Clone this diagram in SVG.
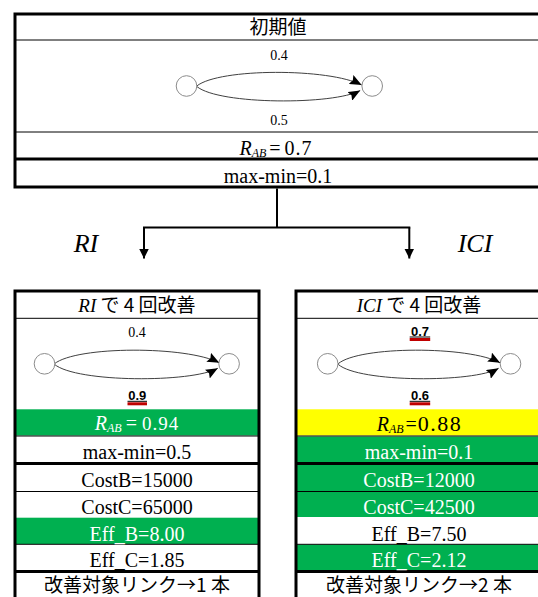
<svg xmlns="http://www.w3.org/2000/svg" width="538" height="597" viewBox="0 0 538 597">
<style>
.s{font-family:"Liberation Serif",serif;font-size:20px;text-anchor:middle;fill:#000}
.w{fill:#fff}
.jp{font-family:"Liberation Serif","Noto Sans CJK JP",sans-serif;font-size:19px;text-anchor:middle;fill:#000}
.jpf{font-family:"Noto Sans CJK JP",sans-serif}
.it{font-family:"Liberation Serif",serif;font-style:italic}
.lbl{font-family:"Liberation Serif",serif;font-size:14px;text-anchor:middle;fill:#000}
.blbl{font-family:"Liberation Sans",sans-serif;font-weight:bold;font-size:13px;text-anchor:middle;fill:#000}
.thick{stroke:#000;stroke-width:3;fill:none}
.thin{stroke:#000;stroke-width:1;fill:none}
.nd{fill:#fff;stroke:#8c8c8c;stroke-width:1}
.ed{fill:none;stroke:#404040;stroke-width:1}
.g{fill:#00B050}
.y{fill:#FFFF00}
.red{fill:#C00000}
.con{stroke:#000;stroke-width:2;fill:none}
.clab{font-family:"Liberation Serif",serif;font-style:italic;font-size:26px;text-anchor:middle;fill:#000}
</style>
<defs>
<marker id="arr" markerUnits="userSpaceOnUse" markerWidth="10" markerHeight="10" refX="10" refY="5" orient="auto"><path d="M0,0 L10,5 L0,10 z" fill="#000"/></marker>
<marker id="ah" markerUnits="userSpaceOnUse" markerWidth="12" markerHeight="10" refX="12" refY="5" orient="auto"><path d="M0,0 L12,5 L0,10 L2,5 z" fill="#000"/></marker>
</defs>
<rect width="538" height="597" fill="#fff"/>

<g id="initial">
<line class="thin" x1="15" y1="40" x2="541" y2="40"/>
<line class="thin" x1="15" y1="132" x2="541" y2="132"/>
<line class="thick" x1="15" y1="159" x2="541" y2="159"/>
<rect class="thick" x="15" y="14" width="526" height="173"/>
<text class="jp jpf" x="278" y="34" font-size="18">初期値</text>
<g id="initial-graph" transform="translate(279.2,86)">
<path class="ed" d="M-82.4,0 C-60,-18 50,-18 82.5,-1" marker-end="url(#ah)"/>
<path class="ed" d="M-82.4,0.5 C-60,19 55,19 81,4.5" marker-end="url(#ah)"/>
<circle id="init-A" class="nd" cx="-92.7" cy="0" r="10.3"/>
<circle id="init-B" class="nd" cx="93" cy="0" r="10.3"/>
</g>
<text class="lbl" x="279" y="59.5">0.4</text>
<text class="lbl" x="279" y="125">0.5</text>
<text class="s" x="276" y="155" font-size="18"><tspan class="it">R</tspan><tspan class="it" font-size="12" dy="2">AB</tspan><tspan dy="-2" dx="3">=</tspan><tspan dx="4" letter-spacing="1">0.7</tspan></text>
<text class="s" x="278" y="183">max-min=0.1</text>
</g>

<g id="connectors">
<path class="con" d="M277,188.5 V227.5"/>
<path class="con" d="M144,227.5 H409.3" stroke-linecap="square"/>
<path class="con" d="M144,227.5 V258.5" marker-end="url(#arr)"/>
<path class="con" d="M409.3,227.5 V258.5" marker-end="url(#arr)"/>
<text class="clab" x="86" y="252">RI</text>
<text class="clab" x="475" y="252">ICI</text>
</g>

<g id="ri-box">
<rect class="g" x="15" y="409.3" width="244" height="26.2"/>
<rect class="g" x="15" y="517.7" width="244" height="26.3"/>
<line class="thin" x1="15" y1="318.3" x2="259" y2="318.3"/>
<line class="thin" x1="15" y1="436" x2="259" y2="436"/>
<line class="thick" x1="15" y1="463.5" x2="259" y2="463.5"/>
<line class="thin" x1="15" y1="491.5" x2="259" y2="491.5"/>
<line class="thin" x1="15" y1="544.3" x2="259" y2="544.3"/>
<line class="thick" x1="15" y1="571.5" x2="259" y2="571.5"/>
<rect class="thick" x="15" y="291" width="244" height="340"/>
<text class="jp" x="137" y="312"><tspan class="it">RI</tspan><tspan class="jpf"> で 4 回改善</tspan></text>
<g id="ri-graph" transform="translate(136.8,363.8)">
<path class="ed" d="M-82.4,0 C-60,-18 50,-18 82.5,-1" marker-end="url(#ah)"/>
<path class="ed" d="M-82.4,0.5 C-60,19 55,19 81,4.5" marker-end="url(#ah)"/>
<circle id="ri-A" class="nd" cx="-92.3" cy="0" r="10.3"/>
<circle id="ri-B" class="nd" cx="92.3" cy="0" r="10.3"/>
</g>
<text class="lbl" x="137" y="337">0.4</text>
<rect class="red" x="127.5" y="402.3" width="19.5" height="3"/>
<line x1="127.5" y1="401.3" x2="147" y2="401.3" stroke="#000" stroke-width="1"/>
<text class="blbl" x="137.2" y="400">0.9</text>
<text class="s w" x="137" y="430" font-size="18"><tspan class="it">R</tspan><tspan class="it" font-size="12" dy="2">AB</tspan><tspan dy="-2" dx="4" font-size="20">=</tspan><tspan dx="5" font-size="19" letter-spacing="1">0.94</tspan></text>
<text class="s" x="137" y="458.5">max-min=0.5</text>
<text class="s" x="137" y="486.5">CostB=15000</text>
<text class="s" x="137" y="513.5">CostC=65000</text>
<text class="s w" x="137" y="540.5">Eff_B=8.00</text>
<text class="s" x="137" y="567">Eff_C=1.85</text>
<text class="jp jpf" x="137" y="592">改善対象リンク→1 本</text>
</g>

<g id="ici-box">
<rect class="y" x="296" y="409.3" width="245" height="26.2"/>
<rect class="g" x="296" y="436.5" width="245" height="26.5"/>
<rect class="g" x="296" y="465" width="245" height="26.5"/>
<rect class="g" x="296" y="491.5" width="245" height="25.5"/>
<rect class="g" x="296" y="544.5" width="245" height="26"/>
<line class="thin" x1="296" y1="318.3" x2="541" y2="318.3"/>
<line class="thin" x1="296" y1="436" x2="541" y2="436"/>
<line class="thick" x1="296" y1="463.5" x2="541" y2="463.5"/>
<line class="thin" x1="296" y1="491.5" x2="541" y2="491.5"/>
<line class="thin" x1="296" y1="544.3" x2="541" y2="544.3"/>
<line class="thick" x1="296" y1="571.5" x2="541" y2="571.5"/>
<rect class="thick" x="296" y="291" width="245" height="340"/>
<text class="jp" x="419" y="312"><tspan class="it">ICI</tspan><tspan class="jpf"> で 4 回改善</tspan></text>
<g id="ici-graph" transform="translate(419.1,363.8)">
<path class="ed" d="M-81,0 C-60,-18 50,-18 81,-1" marker-end="url(#ah)"/>
<path class="ed" d="M-81,0.5 C-60,19 55,19 79.5,4.5" marker-end="url(#ah)"/>
<circle id="ici-A" class="nd" cx="-91.4" cy="0" r="10.3"/>
<circle id="ici-B" class="nd" cx="91.4" cy="0" r="10.3"/>
</g>
<rect class="red" x="409.7" y="338" width="20.5" height="3"/>
<line x1="409.7" y1="337" x2="430.2" y2="337" stroke="#000" stroke-width="1"/>
<text class="blbl" x="420" y="335.8">0.7</text>
<rect class="red" x="409.7" y="402.3" width="20.5" height="3"/>
<line x1="409.7" y1="401.3" x2="430.2" y2="401.3" stroke="#000" stroke-width="1"/>
<text class="blbl" x="420" y="400.3">0.6</text>
<text class="s" x="419.5" y="430.5" font-size="18"><tspan class="it">R</tspan><tspan class="it" font-size="12" dy="2">AB</tspan><tspan dy="-2" dx="2" font-size="20">=</tspan><tspan dx="1" font-size="22" letter-spacing="1.5">0.88</tspan></text>
<text class="s w" x="419" y="458.5">max-min=0.1</text>
<text class="s w" x="419" y="486.5">CostB=12000</text>
<text class="s w" x="419" y="513.5">CostC=42500</text>
<text class="s" x="419" y="540.5">Eff_B=7.50</text>
<text class="s w" x="419" y="567">Eff_C=2.12</text>
<text class="jp jpf" x="419" y="592">改善対象リンク→2 本</text>
</g>
</svg>
